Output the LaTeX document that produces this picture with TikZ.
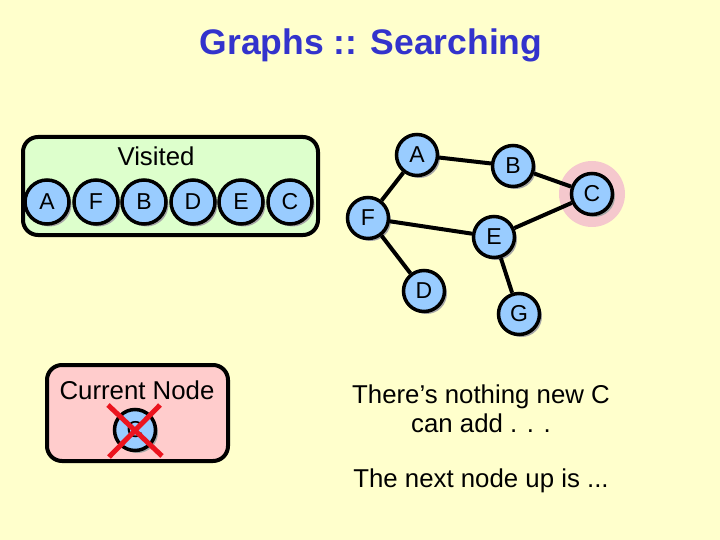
\documentclass[tikz,border=0pt]{standalone}
\usepackage{fontspec}
\setmainfont{Liberation Sans}
\usetikzlibrary{calc, shadows}

\definecolor{slidebg}{RGB}{255,255,204}
\definecolor{titleblue}{RGB}{51,51,204}
\definecolor{nodeblue}{RGB}{153,204,255}
\definecolor{visitgreen}{RGB}{221,255,204}
\definecolor{currpink}{RGB}{255,204,204}
\definecolor{halopink}{RGB}{245,200,205}
\definecolor{crossred}{RGB}{235,20,30}

\tikzset{
  gnode/.style={circle, draw, line width=3.5pt, fill=nodeblue, minimum size=41pt, inner sep=0pt,
    font=\fontsize{23}{25}\selectfont,
    drop shadow={shadow xshift=2.5pt, shadow yshift=-2.5pt, fill=gray!70, opacity=1}},
  vnode/.style={gnode, minimum size=44pt},
  panel/.style={draw, line width=4pt, rounded corners=15pt},
  edge/.style={line width=4pt},
  txt/.style={font=\fontsize{25.8}{29}\selectfont, align=center}
}

\begin{document}
\begin{tikzpicture}[x=1pt, y=-1pt]
\fill[slidebg] (0,0) rectangle (720,540);
\useasboundingbox (0,0) rectangle (720,540);

\node[font=\bfseries\fontsize{35.5}{40}\selectfont, text=titleblue] (title) at (371,45) {Graphs :: Searching};

% visited list
\draw[panel, fill=visitgreen] (23,137) rectangle (318,235);
\node[txt] (visited) at (156,156) {Visited};
\foreach \x/\name in {47/A, 96/F, 144/B, 193/D, 241/E, 290/C}
  \node[vnode] (v\name) at (\x,202) {\name};

% graph
\fill[halopink] (592,194) circle (33);
\foreach \x/\y/\name in {417/155/A, 513/166/B, 592/194/C, 368/218/F, 494/237/E, 424/291/D, 519/314/G}
  \node[gnode] (n\name) at (\x,\y) {\name};

\draw[edge] (nA) -- (nB);
\draw[edge] (nA) -- (nF);
\draw[edge] (nB) -- (nC);
\draw[edge] (nC) -- (nE);
\draw[edge] (nF) -- (nE);
\draw[edge] (nF) -- (nD);
\draw[edge] (nE) -- (nG);

% current node
\draw[panel, fill=currpink] (47,365) rectangle (228,461);
\node[txt] (current) at (137,390) {Current Node};
\node[gnode] (cur) at (135,430) {C};
\draw[crossred, line width=5pt] ($(cur)+(-27,-25)$) -- ($(cur)+(27,26)$);
\draw[crossred, line width=5pt] ($(cur)+(25,-25)$) -- ($(cur)+(-26,27)$);

% remarks
\node[txt] (remark) at (481,409) {There’s nothing new C\\can add . . .};
\node[txt] (next) at (481,481) {The next node up is ...};
\end{tikzpicture}
\end{document}
